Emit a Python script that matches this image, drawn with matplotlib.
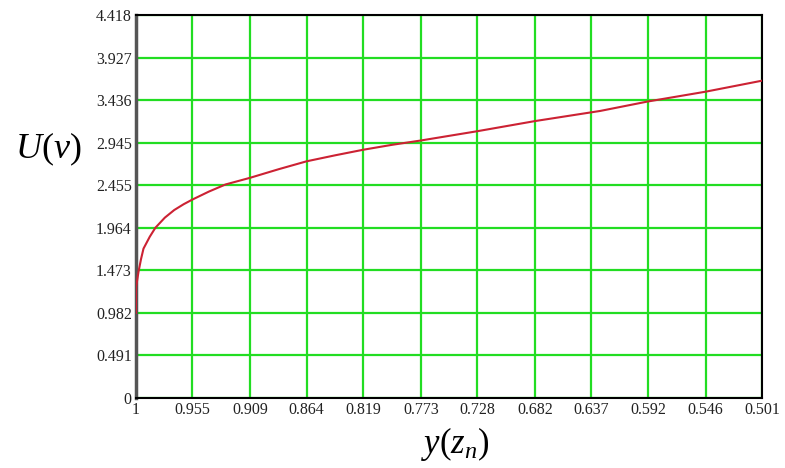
import matplotlib
matplotlib.use("Agg")
import matplotlib.pyplot as plt

# values
y_vals = [1.0, 0.9999, 0.998, 0.996, 0.994, 0.989, 0.9845, 0.977, 0.9695,
          0.962, 0.955, 0.942, 0.9286, 0.909, 0.886, 0.864, 0.841, 0.819,
          0.796, 0.773, 0.728, 0.682, 0.630, 0.592, 0.546, 0.501]
u_vals = [0.982, 1.28, 1.453, 1.60, 1.723, 1.86, 1.964, 2.08, 2.168,
          2.235, 2.289, 2.38, 2.463, 2.54, 2.64, 2.73, 2.80, 2.863,
          2.92, 2.97, 3.077, 3.194, 3.311, 3.42, 3.533, 3.66]

x_ticks = [1, 0.955, 0.909, 0.864, 0.819, 0.773, 0.728, 0.682, 0.637, 0.592, 0.546, 0.501]
x_tick_labels = ["1", "0.955", "0.909", "0.864", "0.819", "0.773", "0.728",
                 "0.682", "0.637", "0.592", "0.546", "0.501"]
y_ticks = [0, 0.491, 0.982, 1.473, 1.964, 2.455, 2.945, 3.436, 3.927, 4.418]
y_tick_labels = ["0", "0.491", "0.982", "1.473", "1.964", "2.455", "2.945",
                 "3.436", "3.927", "4.418"]

plt.rcParams["font.family"] = ["Liberation Serif", "DejaVu Serif"]
plt.rcParams["mathtext.fontset"] = "custom"
plt.rcParams["mathtext.rm"] = "Liberation Serif"
plt.rcParams["mathtext.it"] = "Liberation Serif:italic"

fig = plt.figure(figsize=(7.85, 4.68), dpi=100)
ax = fig.add_axes([0.1732, 0.1496, 0.7975, 0.8184])

ax.plot(y_vals, u_vals, color="#cc2233", linewidth=1.5, zorder=3)

ax.set_xlim(1, 0.501)
ax.set_ylim(0, 4.418)
ax.set_xticks(x_ticks)
ax.set_xticklabels(x_tick_labels)
ax.set_yticks(y_ticks)
ax.set_yticklabels(y_tick_labels)
ax.tick_params(length=0, labelsize=11.5, labelcolor="#222222", pad=3)
ax.grid(True, color="#22dd22", linewidth=1.6)

for side in ["top", "right", "bottom"]:
    ax.spines[side].set_color("black")
    ax.spines[side].set_linewidth(1.5)
ax.spines["left"].set_color("#555555")
ax.spines["left"].set_linewidth(2.5)

ax.set_xlabel(r"$y(z_n)$", fontsize=25)
ax.xaxis.set_label_coords(0.51, -0.07)
fig.text(0.061, 0.68, r"$U(v)$", fontsize=26, ha="center", va="center")

fig.savefig("out.png", dpi=100)
